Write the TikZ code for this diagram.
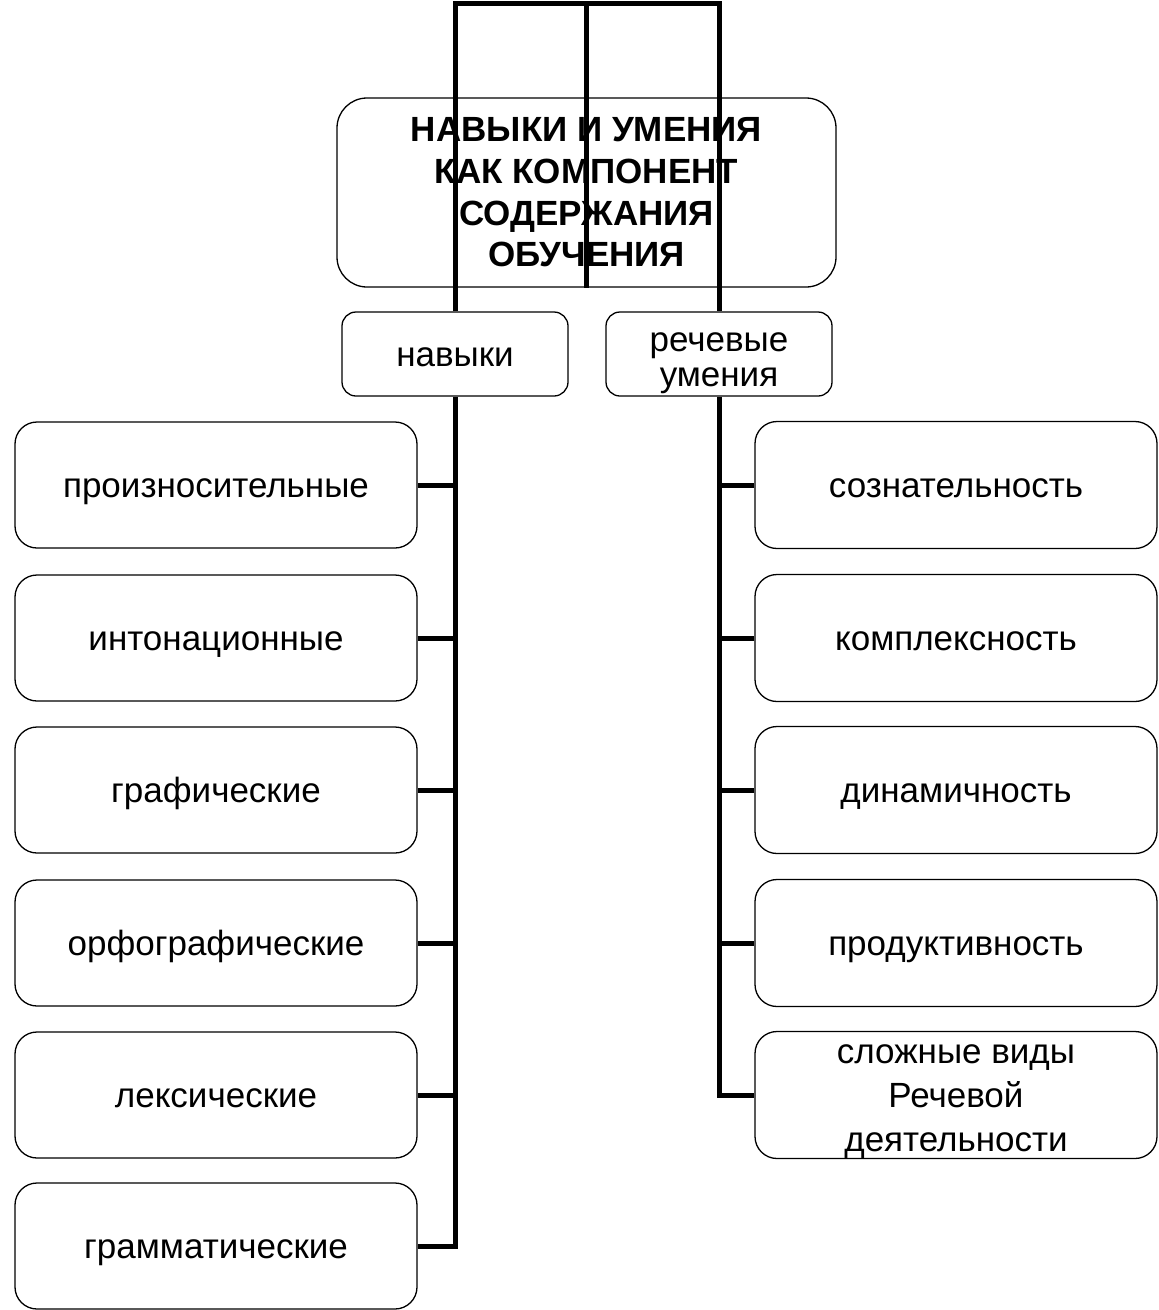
\documentclass[tikz,border=0pt]{standalone}
\usepackage{fontspec}
\setmainfont{Liberation Sans}
\begin{document}
\begin{tikzpicture}[x=1pt,y=-1pt,
  box/.style={draw=black, line width=1.3pt, rounded corners=22pt, fill=white, inner sep=0pt,
    font=\fontsize{35}{42}\selectfont},
  onel/.style={text height=30pt, text depth=6pt},
  leftbox/.style={box, onel, minimum width=402pt, minimum height=126pt},
  rightbox/.style={box, onel, minimum width=402pt, minimum height=127pt},
  midbox/.style={box, rounded corners=14pt, minimum width=226pt, minimum height=84pt},
  conn/.style={line width=5pt, line join=miter, draw=black}]
\useasboundingbox (0,0) rectangle (1159,1310);

% boxes
\node[box, align=center, rounded corners=30pt, minimum width=499pt, minimum height=189pt,
  font=\fontsize{35}{41.7}\selectfont\bfseries] (title) at (586.5,192.5)
  {НАВЫКИ И УМЕНИЯ\\КАК КОМПОНЕНТ\\СОДЕРЖАНИЯ\\ОБУЧЕНИЯ};
\node[midbox, onel] (navyki) at (455,354) {навыки};
\node[midbox, label={[font=\fontsize{35}{35.5}\selectfont, align=center, yshift=-9pt]center:речевые\\умения}] (rech) at (719,354) {};

\node[leftbox] (pron)  at (216,485)  {произносительные};
\node[leftbox] (inton) at (216,638)  {интонационные};
\node[leftbox] (graf)  at (216,790)  {графические};
\node[leftbox] (orfo)  at (216,943)  {орфографические};
\node[leftbox] (leks)  at (216,1095) {лексические};
\node[leftbox] (gram)  at (216,1246) {грамматические};

\node[rightbox] (soz)   at (956,485)  {сознательность};
\node[rightbox] (kompl) at (956,638)  {комплексность};
\node[rightbox] (dinam) at (956,790)  {динамичность};
\node[rightbox] (prod)  at (956,943)  {продуктивность};
\node[rightbox, label={[font=\fontsize{35}{44}\selectfont, align=center, yshift=-7pt]center:сложные виды\\Речевой\\деятельности}] (slozh) at (956,1095) {};

% connectors
\coordinate (tl) at (455,3.5);
\draw[conn] (navyki.north) -- (navyki.north |- tl) -- (rech.north |- tl) -- (rech.north);
\draw[conn] (title.south) -- (title.south |- tl);

\draw[conn] (navyki.south) |- (gram.east);
\foreach \n in {pron,inton,graf,orfo,leks}
  \draw[conn] (\n.east) -- (\n.east -| navyki.south);

\draw[conn] (rech.south) |- (slozh.west);
\foreach \n in {soz,kompl,dinam,prod}
  \draw[conn] (\n.west) -- (\n.west -| rech.south);
\end{tikzpicture}
\end{document}
